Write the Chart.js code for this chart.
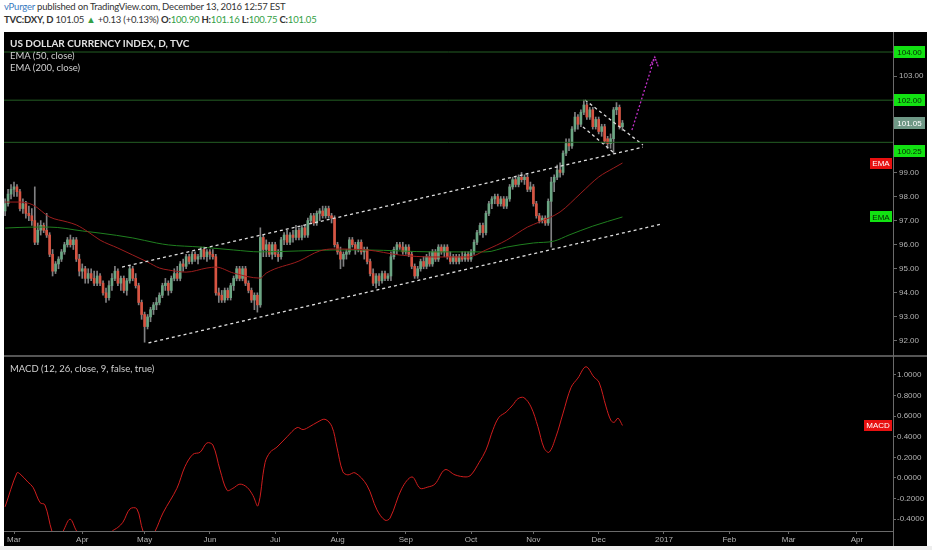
<!DOCTYPE html>
<html>
<head>
<meta charset="utf-8">
<title>DXY daily</title>
<script src="https://cdn.jsdelivr.net/npm/chart.js@4.4.1/dist/chart.umd.min.js"></script>
<style>
  html, body { margin: 0; padding: 0; background: #fff; }
  body { width: 932px; height: 550px; position: relative; overflow: hidden; font-family: Lato, "Open Sans", sans-serif; }
  #hdr1 { position: absolute; left: 4px; top: 0px; font-size: 9.5px; line-height: 14px; letter-spacing: -0.2px; color: #333; white-space: nowrap; }
  #hdr2 { position: absolute; left: 4px; top: 13px; font-size: 9.5px; line-height: 14px; letter-spacing: -0.2px; color: #333; white-space: nowrap; }
  #hdr2 b { font-weight: bold; }
  .up { color: #33a046; }
  .user { color: #3a7bc0; }
  #board { position: absolute; left: 4px; top: 32px; width: 923px; height: 514px; background: #000; }
  #foot { position: absolute; left: 0; top: 546px; width: 932px; height: 4px; background: #eeeeee; }
  #priceBox { position: absolute; left: 0; top: 1px; width: 923px; height: 321px; }
  #sep { position: absolute; left: 0; top: 323px; width: 923px; height: 2px; background: #555; }
  #macdBox { position: absolute; left: 0; top: 326px; width: 923px; height: 188px; }
  #vline { position: absolute; left: 889px; top: 0; width: 1px; height: 514px; background: #6a6a6a; }
  .legend { position: absolute; left: 6px; color: #d0d0d0; font-size: 9.5px; line-height: 12px; white-space: nowrap; }
  .legend.main { font-weight: bold; color: #e2e2e2; font-size: 10px; }
</style>
</head>
<body>
<div id="hdr1"><span class="user">vPurger</span> published on TradingView.com, December 13, 2016 12:57 EST</div>
<div id="hdr2"><b>TVC:DXY, D</b> 101.05 <span class="up">&#9650;</span> +0.13 (+0.13%) <b>O:</b><span class="up">100.90</span> <b>H:</b><span class="up">101.16</span> <b>L:</b><span class="up">100.75</span> <b>C:</b><span class="up">101.05</span></div>
<div id="board">
  <div id="priceBox"><canvas id="priceCanvas"></canvas></div>
  <div id="sep"></div>
  <div id="macdBox"><canvas id="macdCanvas"></canvas></div>
  <div id="vline"></div>
  <div class="legend main" style="top:5px">US DOLLAR CURRENCY INDEX, D, TVC</div>
  <div class="legend" style="top:18px">EMA (50, close)</div>
  <div class="legend" style="top:30px">EMA (200, close)</div>
  <div class="legend" style="top:331px">MACD (12, 26, close, 9, false, true)</div>
</div>
<div id="foot"></div>
<script>
// bar index 0 = 1 Mar 2016, one step per trading day (last bar = 13 Dec 2016)
const firstBar = -3;
const barOpen = [
  97.4, 97.7, 98.1,
  98.3, 98.4, 98.2, 97.5, 97.7, 97.3, 97.2, 97.0, 96.1, 96.6,
  96.8, 96.6, 96.4, 95.6, 94.9, 95.2, 95.4, 95.7, 96.0, 96.2,
  96.0, 96.2, 95.4,
  94.9, 95.0, 94.6, 94.8, 94.6, 94.4, 94.7,
  94.4, 94.0, 93.8, 94.3, 94.6, 94.9, 94.4, 94.6, 94.1, 94.5,
  95.0, 94.6, 94.3, 93.6,
  93.1, 92.6, 93.0, 93.3, 93.5, 93.6,
  93.9, 94.3, 94.4, 94.1, 94.6, 94.8, 94.6, 95.2, 95.1, 95.5,
  95.3, 95.6, 95.4, 95.5, 95.8, 95.5,
  95.7, 95.6, 95.5, 94.0,
  93.9, 93.7, 94.1, 93.8, 94.3, 94.6, 95.0, 94.6, 95.0, 94.4,
  94.1, 93.7, 93.9, 93.5, 96.3, 95.8, 96.0, 95.6,
  96.0, 95.6,
  95.5, 96.2, 96.4, 96.1, 96.4, 96.3, 96.6, 96.3, 96.7, 96.4,
  97.0, 97.2, 96.9, 97.3, 97.4, 97.2, 97.5, 97.2, 97.1,
  96.0, 95.7, 95.4, 95.6, 95.7, 96.2, 96.0, 95.8, 96.1, 95.7, 95.8,
  95.3, 94.8, 94.4, 94.7, 94.5, 94.8, 94.6, 94.7, 95.5, 95.8, 96.0, 95.9,
  95.7, 95.9, 95.6, 95.1, 94.7, 95.0, 95.3, 95.1, 95.5, 95.2, 95.7, 95.4,
  95.9, 95.7, 95.9, 95.5, 95.3, 95.5, 95.3, 95.5, 95.4, 95.6,
  95.4, 95.7, 96.1, 96.5, 96.8, 96.5, 97.3, 97.7, 97.9, 98.0, 97.7, 97.9, 97.6, 97.9, 98.4, 98.7, 98.5, 98.8, 98.7, 98.8, 98.3,
  98.4, 97.7, 97.2, 97.0, 97.1, 96.9, 97.8, 98.6, 98.8, 99.1, 99.0, 99.8, 100.2, 100.1, 100.8, 101.3, 101.0, 101.5, 101.8, 101.3, 101.6, 100.9,
  101.2, 100.7, 100.9, 100.4, 100.2, 100.4, 101.6, 101.7, 100.90
];
const barHigh = [
  97.9, 98.3, 98.5,
  98.6, 98.5, 98.3, 97.9, 97.8, 97.6, 97.5, 98.4, 96.9, 97.0,
  96.9, 97.3, 96.5, 95.8, 95.3, 95.5, 95.8, 96.1, 96.3, 96.4,
  96.3, 96.3, 95.6,
  95.2, 95.1, 95.0, 95.0, 94.9, 94.9, 94.8,
  94.5, 94.2, 94.5, 94.8, 95.1, 95.0, 94.7, 94.7, 94.6, 95.1,
  95.1, 94.8, 94.4, 93.7,
  93.2, 93.1, 93.4, 93.6, 93.8, 94.0,
  94.4, 94.6, 94.5, 94.7, 95.0, 95.1, 95.3, 95.4, 95.6, 95.6,
  95.7, 95.7, 95.6, 95.9, 95.9, 95.8,
  95.8, 95.8, 95.6, 94.2,
  94.1, 94.2, 94.2, 94.4, 94.7, 95.1, 95.1, 95.1, 95.1, 94.5,
  94.2, 94.0, 94.0, 96.7, 96.4, 96.2, 96.1, 96.1,
  96.1, 95.8,
  96.3, 96.5, 96.6, 96.5, 96.6, 96.8, 96.7, 96.8, 96.8, 97.1,
  97.3, 97.3, 97.4, 97.5, 97.6, 97.6, 97.6, 97.3, 97.2,
  96.1, 95.9, 95.7, 95.8, 96.3, 96.3, 96.1, 96.2, 96.2, 95.9, 95.9,
  95.4, 95.0, 94.8, 94.8, 94.9, 94.9, 94.8, 95.7, 95.9, 96.1, 96.1, 96.1,
  96.0, 96.0, 95.7, 95.2, 95.1, 95.4, 95.5, 95.6, 95.7, 95.8, 95.8, 96.0,
  96.0, 96.0, 96.0, 95.7, 95.6, 95.6, 95.6, 95.7, 95.7, 95.7,
  95.8, 96.2, 96.6, 96.9, 96.9, 97.4, 97.8, 98.0, 98.1, 98.1, 98.0, 98.0, 98.0, 98.5, 98.8, 98.8, 98.9, 99.0, 98.9, 98.9, 98.6,
  98.5, 97.8, 97.3, 97.2, 97.2, 97.9, 98.8, 98.9, 99.3, 99.4, 99.9, 100.4, 100.4, 100.9, 101.5, 101.4, 101.6, 102.0, 101.9, 101.7, 101.7, 101.3,
  101.3, 101.0, 101.0, 100.5, 100.6, 101.7, 101.9, 101.8, 101.16
];
const barLow = [
  97.2, 97.6, 97.9,
  98.0, 98.0, 97.4, 97.3, 97.1, 97.0, 96.8, 96.0, 96.0, 96.4,
  96.5, 96.3, 95.5, 94.7, 94.8, 95.0, 95.3, 95.6, 95.9, 95.9,
  95.8, 95.3, 94.7,
  94.6, 94.4, 94.4, 94.5, 94.3, 94.3, 94.3,
  93.9, 93.6, 93.7, 94.1, 94.5, 94.3, 94.1, 94.0, 93.9, 94.4,
  94.5, 94.2, 93.5, 92.9,
  91.95, 92.5, 92.8, 93.1, 93.3, 93.5,
  93.8, 94.1, 93.9, 94.0, 94.5, 94.5, 94.5, 94.9, 95.0, 95.2,
  95.2, 95.3, 95.2, 95.4, 95.4, 95.3,
  95.4, 95.4, 93.9, 93.6,
  93.6, 93.6, 93.7, 93.7, 94.1, 94.5, 94.5, 94.5, 94.3, 94.0,
  93.6, 93.3, 93.2, 93.4, 95.5, 95.5, 95.5, 95.4,
  95.5, 95.3,
  95.4, 96.0, 96.0, 96.0, 96.1, 96.2, 96.2, 96.2, 96.3, 96.3,
  96.9, 96.8, 96.8, 97.0, 97.1, 97.1, 97.1, 96.9, 95.9,
  95.6, 95.0, 95.1, 95.4, 95.6, 95.9, 95.6, 95.7, 95.6, 95.4, 95.2,
  94.7, 94.3, 94.2, 94.3, 94.4, 94.5, 94.5, 94.5, 95.4, 95.6, 95.8, 95.6,
  95.6, 95.5, 95.0, 94.6, 94.6, 94.9, 95.0, 95.0, 95.1, 95.1, 95.3, 95.3,
  95.6, 95.5, 95.4, 95.2, 95.2, 95.2, 95.2, 95.3, 95.3, 95.3,
  95.3, 95.6, 96.0, 96.4, 96.3, 96.4, 97.2, 97.5, 97.7, 97.6, 97.6, 97.5, 97.5, 97.8, 98.3, 98.4, 98.4, 98.6, 98.5, 98.2, 98.2,
  97.6, 97.1, 96.9, 96.9, 96.8, 96.8, 95.9, 98.2, 98.7, 98.8, 98.9, 99.7, 99.9, 100.0, 100.7, 100.8, 100.9, 101.4, 101.2, 101.2, 100.8, 100.8,
  100.6, 100.5, 100.2, 100.0, 100.0, 99.8, 101.4, 100.8, 100.75
];
const barClose = [
  97.7, 98.1, 98.3,
  98.4, 98.2, 97.5, 97.7, 97.3, 97.2, 97.0, 96.1, 96.6, 96.8,
  96.6, 96.4, 95.6, 94.9, 95.2, 95.4, 95.7, 96.0, 96.2, 96.0,
  96.2, 95.4, 94.9,
  95.0, 94.6, 94.8, 94.6, 94.4, 94.7, 94.4,
  94.0, 93.8, 94.3, 94.6, 94.9, 94.4, 94.6, 94.1, 94.5, 95.0,
  94.6, 94.3, 93.6, 93.1,
  92.6, 93.0, 93.3, 93.5, 93.6, 93.9,
  94.3, 94.4, 94.1, 94.6, 94.8, 94.6, 95.2, 95.1, 95.5, 95.3,
  95.6, 95.4, 95.5, 95.8, 95.5, 95.7,
  95.6, 95.5, 94.0, 93.9,
  93.7, 94.1, 93.8, 94.3, 94.6, 95.0, 94.6, 95.0, 94.4, 94.1,
  93.7, 93.9, 93.5, 96.3, 95.8, 96.0, 95.6, 96.0,
  95.6, 95.5,
  96.2, 96.4, 96.1, 96.4, 96.3, 96.6, 96.3, 96.7, 96.4, 97.0,
  97.2, 96.9, 97.3, 97.4, 97.2, 97.5, 97.2, 97.1, 96.0,
  95.7, 95.4, 95.6, 95.7, 96.2, 96.0, 95.8, 96.1, 95.7, 95.8, 95.3,
  94.8, 94.4, 94.7, 94.5, 94.8, 94.6, 94.7, 95.5, 95.8, 96.0, 95.9, 95.7,
  95.9, 95.6, 95.1, 94.7, 95.0, 95.3, 95.1, 95.5, 95.2, 95.7, 95.4, 95.9,
  95.7, 95.9, 95.5, 95.3, 95.5, 95.3, 95.5, 95.4, 95.6, 95.4,
  95.7, 96.1, 96.5, 96.8, 96.5, 97.3, 97.7, 97.9, 98.0, 97.7, 97.9, 97.6, 97.9, 98.4, 98.7, 98.5, 98.8, 98.7, 98.8, 98.3, 98.4,
  97.7, 97.2, 97.0, 97.1, 96.9, 97.8, 98.6, 98.8, 99.1, 99.0, 99.8, 100.2, 100.1, 100.8, 101.3, 101.0, 101.5, 101.8, 101.3, 101.6, 100.9, 101.2,
  100.7, 100.9, 100.3, 100.2, 100.4, 101.6, 101.7, 100.9, 101.05
];

// EMA curves (bar index, value)
const ema50Idx = [-3, 2, 6.4, 12, 18, 21, 25, 29, 35, 40, 45, 49, 52, 58, 65, 68, 74, 83, 85, 96, 103, 107.5, 119, 130, 141, 153, 159, 166, 173, 177, 184, 191, 197, 202, 205];
const ema50Val = [97.77, 97.77, 97.65, 97.15, 96.94, 96.82, 96.53, 96.19, 95.86, 95.57, 95.28, 95.03, 94.95, 94.86, 95.03, 95.07, 94.82, 94.61, 94.82, 95.32, 95.74, 95.82, 95.78, 95.57, 95.49, 95.49, 95.78, 96.19, 96.73, 96.94, 97.36, 98.14, 98.81, 99.18, 99.39];
const ema200Idx = [-3, 6.4, 12, 23, 29, 40, 48, 52, 63, 74, 83, 96, 107.5, 119, 130, 141, 153, 159, 166, 175, 182, 187, 195, 205];
const ema200Val = [96.69, 96.73, 96.73, 96.57, 96.48, 96.28, 96.07, 95.99, 95.90, 95.78, 95.70, 95.74, 95.78, 95.78, 95.74, 95.70, 95.70, 95.70, 95.90, 96.07, 96.15, 96.40, 96.77, 97.15];

// MACD line (bar index, value); dips below the pane are estimates
const macdIdx = [-3, 1, 2, 4.7, 6.4, 8.8, 10.4, 12.8, 14.5, 16.5, 18.9, 21.2, 25.6, 29, 33, 35, 36.7, 39.1, 41.4, 43.5, 45.5, 47.5, 50.2, 54.9, 57.6, 60.3, 62.7, 65, 67, 69.4, 71.8, 73.8, 76.1, 78.5, 80.5, 82.2, 84.6, 86.3, 88.6, 92, 95.4, 97.4, 99.7, 102.1, 104.8, 107.1, 108.8, 110.8, 112.5, 114.9, 118.9, 122.3, 125, 126.7, 130.7, 134.1, 136.8, 139.2, 141.8, 145.2, 148.6, 152.3, 154, 156.7, 159, 161.4, 163.4, 165.8, 168.1, 169.8, 171.8, 174.2, 176.5, 178.6, 180.3, 182.6, 185, 187.7, 190, 192.7, 195.4, 197.1, 199.5, 201.1, 202.2, 203.5, 205];
const macdVal = [-0.28, 0.05, 0.04, -0.04, -0.09, -0.24, -0.26, -0.52, -0.62, -0.52, -0.40, -0.52, -0.66, -0.68, -0.52, -0.48, -0.43, -0.30, -0.30, -0.52, -0.60, -0.52, -0.34, -0.10, 0.11, 0.23, 0.25, 0.34, 0.32, 0.08, -0.12, -0.10, -0.06, -0.09, -0.17, -0.27, 0.15, 0.25, 0.30, 0.40, 0.49, 0.47, 0.50, 0.54, 0.57, 0.50, 0.30, 0.06, 0.03, 0.05, -0.07, -0.31, -0.41, -0.39, -0.10, 0.01, -0.10, -0.09, -0.06, 0.08, 0.03, 0.01, 0.03, 0.15, 0.27, 0.47, 0.59, 0.64, 0.71, 0.77, 0.78, 0.69, 0.50, 0.29, 0.25, 0.40, 0.63, 0.88, 0.97, 1.08, 0.98, 0.93, 0.69, 0.56, 0.54, 0.58, 0.51];

// axis labels
const monthTickIdx = [0, 23, 44, 66, 88, 109, 132, 154, 175, 197, 219, 241, 261, 284];
const monthLabels = ['Mar', 'Apr', 'May', 'Jun', 'Jul', 'Aug', 'Sep', 'Oct', 'Nov', 'Dec', '2017', 'Feb', 'Mar', 'Apr'];
const priceTicks = [92, 93, 94, 95, 96, 97, 98, 99, 103];
const macdTicks = [-0.4, -0.2, 0, 0.2, 0.4, 0.6, 0.8, 1.0];

// drawings on the price pane
const levelValues = [104, 102, 100.25];
const channelTop = [[36.4, 95.07], [211.9, 100.05]];
const channelBottom = [[45.3, 91.92], [218.3, 96.86]];
const flagTop = [[192.4, 102.01], [211.9, 100.14]];
const flagBottom = [[191.7, 100.89], [201.8, 99.85]];
const targetArrow = [[208.2, 100.76], [215.9, 103.79]];
const arrowHead = [[214.3, 103.42], [215.9, 103.79], [217.1, 103.38]];

const X_MIN = -3.37, X_MAX = 296.16;
const UP = '#6ba583', DOWN = '#d75442', WICK = '#808082';
const AXIS = '#6a6a6a', TICKTXT = '#b4b4b4';

Chart.defaults.font.family = '"Liberation Sans", Arial, sans-serif';
Chart.defaults.font.size = 8;

const pts = arr => arr.map(p => ({x: p[0], y: p[1]}));
const zipXY = (xs, ys) => xs.map((x, i) => ({x: x, y: ys[i]}));

const nBars = Math.min(barOpen.length, barHigh.length, barLow.length, barClose.length);
const wickData = [], bodyData = [], bodyColors = [];
for (let i = 0; i < nBars; i++) {
  const o = barOpen[i], c = barClose[i];
  wickData.push({x: firstBar + i, y: [Math.min(barLow[i], o, c), Math.max(barHigh[i], o, c)]});
  bodyData.push({x: firstBar + i, y: [o, c]});
  bodyColors.push(c >= o ? UP : DOWN);
}
const lastClose = barClose[nBars - 1];

function drawing(data, color, dash, width) {
  return {type: 'line', data: data, borderColor: color, borderWidth: width || 1.3,
          borderDash: dash, pointRadius: 0, tension: 0, order: 1};
}

function tag(ctx, x, yMid, w, h, text, bg, fg) {
  ctx.fillStyle = bg;
  ctx.fillRect(x, Math.round(yMid - h / 2), w, h);
  ctx.fillStyle = fg;
  ctx.textAlign = 'center';
  ctx.textBaseline = 'middle';
  ctx.fillText(text, x + w / 2, Math.round(yMid) + 0.5);
}

const levelTagNudge = [0, 0, 9];

const priceTags = {
  id: 'priceTags',
  afterDraw(chart) {
    const ctx = chart.ctx, area = chart.chartArea, y = chart.scales.y;
    ctx.save();
    ctx.font = '8px "Liberation Sans", Arial, sans-serif';
    levelValues.forEach((v, i) => {
      tag(ctx, area.right + 1, y.getPixelForValue(v) + levelTagNudge[i], 31, 12, v.toFixed(2), '#12e212', '#062806');
    });
    tag(ctx, area.right + 1, y.getPixelForValue(lastClose), 31, 12, lastClose.toFixed(2), '#6f9886', '#ffffff');
    tag(ctx, area.right - 23, y.getPixelForValue(ema50Val[ema50Val.length - 1]), 22, 11, 'EMA', '#e81010', '#ffffff');
    tag(ctx, area.right - 23, y.getPixelForValue(ema200Val[ema200Val.length - 1]), 22, 11, 'EMA', '#12e212', '#062806');
    ctx.restore();
  }
};

const macdTag = {
  id: 'macdTag',
  afterDraw(chart) {
    const ctx = chart.ctx, area = chart.chartArea, y = chart.scales.y;
    ctx.save();
    ctx.font = '8px "Liberation Sans", Arial, sans-serif';
    tag(ctx, area.right - 29, y.getPixelForValue(macdVal[macdVal.length - 1]), 28, 11, 'MACD', '#e81010', '#ffffff');
    ctx.restore();
  }
};

function fixY(scale) {
  scale.width = 34;
  scale.paddingTop = 0;
  scale.paddingBottom = 0;
}

new Chart(document.getElementById('priceCanvas'), {
  type: 'bar',
  data: {
    datasets: [
      {type: 'bar', data: wickData, backgroundColor: WICK, barThickness: 1, grouped: false, order: 10},
      {type: 'bar', data: bodyData, backgroundColor: bodyColors, barThickness: 2, grouped: false, minBarLength: 1, order: 9},
      {type: 'line', data: zipXY(ema50Idx, ema50Val), borderColor: '#9c1d1d', borderWidth: 1, pointRadius: 0,
       cubicInterpolationMode: 'monotone', order: 5},
      {type: 'line', data: zipXY(ema200Idx, ema200Val), borderColor: '#1f7f1f', borderWidth: 1, pointRadius: 0,
       cubicInterpolationMode: 'monotone', order: 5},
      ...levelValues.map(v => drawing([{x: X_MIN, y: v}, {x: X_MAX, y: v}], '#245f24', [], 1)),
      drawing(pts(channelTop), '#dedede', [3, 3]),
      drawing(pts(channelBottom), '#dedede', [3, 3]),
      drawing(pts(flagTop), '#dedede', [3, 3]),
      drawing(pts(flagBottom), '#dedede', [3, 3]),
      drawing(pts(targetArrow), '#c22fc8', [2, 2]),
      drawing(pts(arrowHead), '#c22fc8', [2, 1])
    ]
  },
  options: {
    animation: false,
    responsive: true,
    maintainAspectRatio: false,
    layout: {padding: 0},
    plugins: {legend: {display: false}, tooltip: {enabled: false}},
    scales: {
      x: {type: 'linear', min: X_MIN, max: X_MAX, display: false, offset: false, grid: {offset: false}},
      y: {
        position: 'right', min: 91.46, max: 104.79, beginAtZero: false,
        afterFit: fixY,
        afterBuildTicks: s => { s.ticks = priceTicks.map(v => ({value: v})); },
        ticks: {color: TICKTXT, padding: 2, callback: v => Number(v).toFixed(2)},
        grid: {drawOnChartArea: false, tickLength: 4, color: AXIS},
        border: {color: AXIS}
      }
    }
  },
  plugins: [priceTags]
});

new Chart(document.getElementById('macdCanvas'), {
  type: 'line',
  data: {
    datasets: [
      {data: zipXY(macdIdx, macdVal), borderColor: '#cf1d1d', borderWidth: 1, pointRadius: 0, tension: 0.35}
    ]
  },
  options: {
    animation: false,
    responsive: true,
    maintainAspectRatio: false,
    layout: {padding: 0},
    plugins: {legend: {display: false}, tooltip: {enabled: false}},
    scales: {
      x: {
        type: 'linear', min: X_MIN, max: X_MAX, offset: false,
        afterBuildTicks: s => { s.ticks = monthTickIdx.map(v => ({value: v})); },
        afterFit: s => { s.height = 15; s.paddingLeft = 0; s.paddingRight = 0; },
        ticks: {autoSkip: false, maxRotation: 0, color: TICKTXT, padding: 1, callback: (v, i) => monthLabels[i]},
        grid: {drawOnChartArea: false, tickLength: 3, color: AXIS, offset: false},
        border: {color: AXIS}
      },
      y: {
        position: 'right', min: -0.515, max: 1.165, beginAtZero: false,
        afterFit: fixY,
        afterBuildTicks: s => { s.ticks = macdTicks.map(v => ({value: v})); },
        ticks: {color: TICKTXT, padding: 1, callback: v => Number(v).toFixed(4)},
        grid: {drawOnChartArea: false, tickLength: 3, color: AXIS},
        border: {color: AXIS}
      }
    }
  },
  plugins: [macdTag]
});
</script>
</body>
</html>
